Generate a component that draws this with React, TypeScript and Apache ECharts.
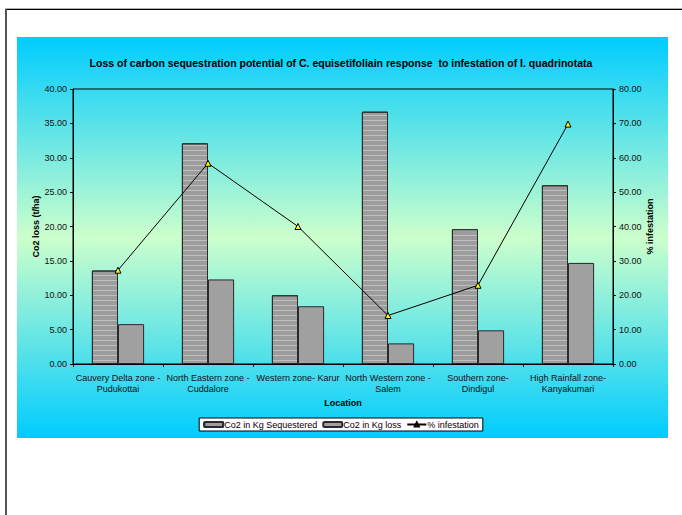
import React, { useEffect, useRef } from 'react';
import * as echarts from 'echarts';

const categories = [
  'Cauvery Delta zone -\nPudukottai',
  'North Eastern zone -\nCuddalore',
  'Western zone- Karur',
  'North Western zone -\nSalem',
  'Southern zone-\nDindigul',
  'High Rainfall zone-\nKanyakumari',
];
const sequestered = [13.6, 32.1, 10.0, 36.7, 19.6, 26.0];
const lossValues = [5.8, 12.3, 8.4, 3.0, 4.9, 14.7];
const infestation = [27.3, 58.4, 40.0, 14.1, 22.9, 69.8];

const FONT = '"Liberation Sans", Arial, sans-serif';

export default function App() {
  const ref = useRef<HTMLDivElement>(null);
  useEffect(() => {
    const chart = echarts.init(ref.current!, null, { renderer: 'svg' });
    chart.setOption({
      animation: false,
      textStyle: { fontFamily: FONT },
      graphic: [
        {
          type: 'rect',
          z: -10,
          silent: true,
          shape: { x: 17, y: 37, width: 651, height: 401 },
          style: {
            fill: new echarts.graphic.LinearGradient(0, 0, 0, 1, [
              { offset: 0, color: '#00CCFF' },
              { offset: 0.5, color: '#CCFFCC' },
              { offset: 1, color: '#00CCFF' },
            ]),
          },
        },
        {
          type: 'line',
          z: -10,
          silent: true,
          shape: { x1: 5, y1: 8.5, x2: 682, y2: 8.5 },
          style: { stroke: '#b0b0b0', lineWidth: 1 },
        },
        {
          type: 'line',
          z: -10,
          silent: true,
          shape: { x1: 5, y1: 9.5, x2: 682, y2: 9.5 },
          style: { stroke: '#000', lineWidth: 1 },
        },
        {
          type: 'line',
          z: -10,
          silent: true,
          shape: { x1: 6, y1: 9, x2: 6, y2: 515 },
          style: { stroke: '#555', lineWidth: 2 },
        },
      ],
      title: {
        text: 'Loss of carbon sequestration potential of C. equisetifoliain response  to infestation of I. quadrinotata',
        left: 'center',
        top: 52,
        textStyle: { fontSize: 10.5, fontWeight: 'bold', color: '#000', fontFamily: FONT },
      },
      legend: {
        left: 'center',
        top: 418,
        padding: [1, 4],
        itemGap: 5,
        itemWidth: 19,
        itemHeight: 5,
        backgroundColor: '#fff',
        borderColor: '#000',
        borderWidth: 1,
        borderRadius: 0,
        textStyle: { fontSize: 9, color: '#000', fontFamily: FONT, lineHeight: 11, padding: [0, 0, 0, -4] },
        data: ['Co2 in Kg Sequestered', 'Co2 in Kg loss', '% infestation'],
      },
      grid: {
        left: 73,
        right: 69,
        top: 89,
        bottom: 151,
        show: true,
        borderColor: '#000',
        borderWidth: 1,
        backgroundColor: 'transparent',
      },
      xAxis: {
        type: 'category',
        data: categories,
        name: 'Location',
        nameLocation: 'middle',
        nameGap: 34,
        nameMoveOverlap: false,
        nameTextStyle: { fontSize: 9, fontWeight: 'bold', color: '#000', fontFamily: FONT },
        axisLine: { lineStyle: { color: '#000', width: 1 } },
        axisTick: { show: true, length: 3, lineStyle: { color: '#000' } },
        axisLabel: { interval: 0, fontSize: 9, color: '#111', margin: 8, lineHeight: 11, fontFamily: FONT },
      },
      yAxis: [
        {
          type: 'value',
          min: 0,
          max: 40,
          interval: 5,
          name: 'Co2 loss (t/ha)',
          nameLocation: 'middle',
          nameRotate: 90,
          nameGap: 33,
          nameMoveOverlap: false,
          nameTextStyle: { fontSize: 9, fontWeight: 'bold', color: '#000', fontFamily: FONT },
          axisLine: { show: true, lineStyle: { color: '#000', width: 1 } },
          axisTick: { show: true, length: 3, lineStyle: { color: '#000' } },
          axisLabel: { fontSize: 9, color: '#111', margin: 6, formatter: (v: number) => v.toFixed(2), fontFamily: FONT },
          splitLine: { show: false },
        },
        {
          type: 'value',
          min: 0,
          max: 80,
          interval: 10,
          position: 'right',
          name: '% infestation',
          nameLocation: 'middle',
          nameRotate: 90,
          nameGap: 32,
          nameMoveOverlap: false,
          nameTextStyle: { fontSize: 9, fontWeight: 'bold', color: '#000', fontFamily: FONT },
          axisLine: { show: true, lineStyle: { color: '#000', width: 1 } },
          axisTick: { show: true, length: 3, lineStyle: { color: '#000' } },
          axisLabel: { fontSize: 9, color: '#111', margin: 6, formatter: (v: number) => v.toFixed(2), fontFamily: FONT },
          splitLine: { show: false },
        },
      ],
      series: [
        {
          name: 'Co2 in Kg Sequestered',
          type: 'bar',
          data: sequestered,
          barGap: '0%',
          barCategoryGap: '42%',
          itemStyle: {
            color: '#9c9c9c',
            borderColor: '#2a2a2a',
            borderWidth: 1,
            decal: {
              symbol: 'rect',
              symbolSize: 1,
              dashArrayX: [20, 0],
              dashArrayY: [1, 4],
              color: 'rgba(255,255,255,0.35)',
            },
          },
        },
        {
          name: 'Co2 in Kg loss',
          type: 'bar',
          data: lossValues,
          itemStyle: { color: '#a0a0a0', borderColor: '#2a2a2a', borderWidth: 1 },
        },
        {
          name: '% infestation',
          type: 'line',
          yAxisIndex: 1,
          data: infestation,
          symbol: 'triangle',
          symbolSize: 6,
          z: 5,
          lineStyle: { color: '#000', width: 1 },
          itemStyle: { color: '#ffff00', borderColor: '#000', borderWidth: 1 },
        },
      ],
    });
    return () => chart.dispose();
  }, []);
  return (
    <div
      ref={ref}
      style={{ position: 'absolute', left: 0, top: 0, width: 682, height: 515, background: '#fff' }}
    />
  );
}
